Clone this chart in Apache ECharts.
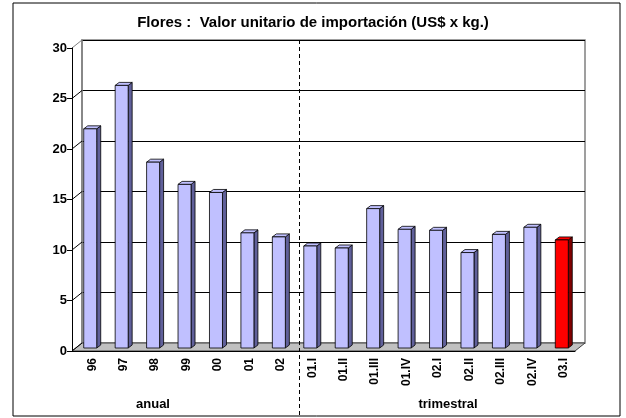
<!DOCTYPE html>
<html>
<head>
<meta charset="utf-8">
<script src="https://cdn.jsdelivr.net/npm/echarts@6/dist/echarts.min.js"></script>
<style>
  html, body { margin: 0; padding: 0; background: #fff; }
  #chart1 { width: 626px; height: 418px; }
</style>
</head>
<body>
<div id="chart1"></div>
<script>
// datos del gráfico
var categorias = ['96', '97', '98', '99', '00', '01', '02', '01.I', '01.II', '01.III', '01.IV', '02.I', '02.II', '02.III', '02.IV', '03.I'];
var valores = [21.7, 26.0, 18.4, 16.2, 15.4, 11.4, 11.0, 10.1, 9.9, 13.8, 11.75, 11.65, 9.45, 11.25, 11.95, 10.7];
var destacado = ['03.I'];
var yTicks = [0, 5, 10, 15, 20, 25, 30];
var grupos = ['anual', 'trimestral'];

var fuente = '"Liberation Sans", Arial, sans-serif';
var DX = 10, DY = -8;   // profundidad de la pared del fondo

var chart1 = echarts.init(document.getElementById('chart1'));

// barras 3D (cara frontal, lateral y superior)
function dibujarBarra(params, api) {
  var i = api.value(0);
  var v = api.value(1);
  var p0 = api.coord([i, 0]);
  var p1 = api.coord([i, v]);
  var cx = p0[0] + 2.5;
  var w = 13, dx = 4, dy = -3;
  var top = p1[1] - 3, bot = p0[1] - 3;
  var rojo = destacado.indexOf(categorias[i]) >= 0;
  var cFrente = rojo ? '#ff0000' : '#c0c0ff';
  var cLado = rojo ? '#800000' : '#60609a';
  var cTop = rojo ? '#ff0000' : '#c0c0ff';
  var l = cx - w / 2, r = cx + w / 2;
  return {
    type: 'group',
    children: [
      { type: 'polygon', shape: { points: [[r, top], [r + dx, top + dy], [r + dx, bot + dy], [r, bot]] },
        style: { fill: cLado, stroke: '#000', lineWidth: 0.8 } },
      { type: 'polygon', shape: { points: [[l, top], [l + dx, top + dy], [r + dx, top + dy], [r, top]] },
        style: { fill: cTop, stroke: '#000', lineWidth: 0.8 } },
      { type: 'rect', shape: { x: l, y: top, width: w, height: bot - top },
        style: { fill: cFrente, stroke: '#000', lineWidth: 0.8 } }
    ]
  };
}

// piso y pared lateral
function dibujarPiso(params, api) {
  var cs = params.coordSys;
  var x0 = cs.x, x1 = cs.x + cs.width, y0 = cs.y + cs.height;
  var hijos = [
    { type: 'polygon', shape: { points: [[x0, y0], [x1, y0], [x1 + DX, y0 + DY], [x0 + DX, y0 + DY]] },
      style: { fill: '#c0c0c0', stroke: '#404040', lineWidth: 1 } }
  ];
  yTicks.forEach(function (t) {
    var y = api.coord([0, t])[1];
    hijos.push({ type: 'line', shape: { x1: x0, y1: y, x2: x0 + DX, y2: y + DY },
      style: { stroke: t === 30 ? '#808080' : '#000', lineWidth: 1 } });
  });
  return { type: 'group', children: hijos };
}

var option1 = {
  animation: false,
  backgroundColor: '#fff',
  title: {
    text: 'Flores :  Valor unitario de importación (US$ x kg.)',
    left: 'center',
    top: 10,
    textStyle: { fontFamily: fuente, fontSize: 15, fontWeight: 'bold', color: '#000' }
  },
  grid: [
    { left: 72, right: 51, top: 48, bottom: 67, show: false },
    { left: 72 + DX, right: 51 - DX, top: 48 + DY, bottom: 67 - DY, show: true,
      borderColor: '#808080', borderWidth: 1.5, backgroundColor: '#fff', z: 0 }
  ],
  xAxis: [
    {
      type: 'category', gridIndex: 0, data: categorias,
      axisLine: { lineStyle: { color: '#000', width: 1 } },
      axisTick: { length: 5, lineStyle: { color: '#000' } },
      axisLabel: { rotate: 90, margin: 7, verticalAlign: 'top', lineHeight: 9, fontFamily: fuente, fontSize: 12,
        fontWeight: 'bold', color: '#000' },
      z: 10
    },
    { type: 'category', gridIndex: 1, data: categorias, show: false }
  ],
  yAxis: [
    {
      type: 'value', gridIndex: 0, min: 0, max: 30, interval: 5,
      splitLine: { show: false },
      axisLine: { show: true, lineStyle: { color: '#000', width: 1 } },
      axisTick: { show: true, length: 5, lineStyle: { color: '#000' } },
      axisLabel: { margin: 5, fontFamily: fuente, fontSize: 13, fontWeight: 'bold', color: '#000' },
      z: 10
    },
    {
      type: 'value', gridIndex: 1, min: 0, max: 30, interval: 5,
      splitLine: { show: true, lineStyle: { color: '#000', width: 1 } },
      axisLine: { show: true, lineStyle: { color: '#808080', width: 1.5 } },
      axisTick: { show: false },
      axisLabel: { show: false }
    }
  ],
  graphic: [
    { type: 'rect', shape: { x: 13, y: 3, width: 607, height: 413 },
      style: { fill: null, stroke: '#000', lineWidth: 1 }, z: 100 },
    { type: 'line', shape: { x1: 299.5, y1: 40, x2: 299.5, y2: 416 },
      style: { stroke: '#000', lineWidth: 1, lineDash: [4, 3] }, z: 5 },
    { type: 'text', x: 153, y: 404, style: { text: grupos[0], textAlign: 'center', textVerticalAlign: 'middle',
      font: 'bold 13px ' + fuente, fill: '#000' }, z: 100 },
    { type: 'text', x: 448, y: 404, style: { text: grupos[1], textAlign: 'center', textVerticalAlign: 'middle',
      font: 'bold 13px ' + fuente, fill: '#000' }, z: 100 }
  ],
  series: [
    {
      type: 'custom', xAxisIndex: 0, yAxisIndex: 0, z: 1,
      renderItem: dibujarPiso, data: [[0, 0]], silent: true
    },
    {
      type: 'custom', xAxisIndex: 0, yAxisIndex: 0, z: 6,
      renderItem: dibujarBarra,
      data: valores.map(function (v, i) { return [i, v]; })
    }
  ]
};

chart1.setOption(option1);

window.onresize = function () {
  chart1.resize();
};
</script>
</body>
</html>
